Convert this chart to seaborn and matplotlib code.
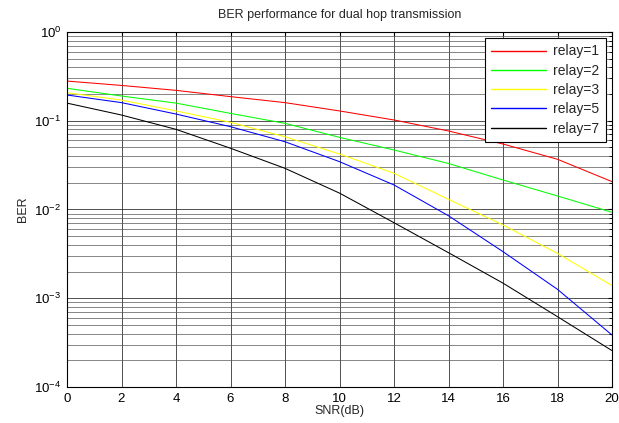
import numpy as np
import pandas as pd
import seaborn as sns
import matplotlib
matplotlib.use("Agg")
import matplotlib.pyplot as plt
import matplotlib.ticker as plticker

snr_db = [0, 2, 4, 6, 8, 10, 12, 14, 16, 18, 20]
ber_relay1 = [0.28, 0.25, 0.22, 0.187, 0.16, 0.129, 0.102, 0.0767, 0.0547, 0.0368, 0.0206]
ber_relay2 = [0.232, 0.19, 0.158, 0.121, 0.0935, 0.065, 0.0468, 0.033, 0.0215, 0.0142, 0.0093]
ber_relay3 = [0.207, 0.171, 0.129, 0.096, 0.066, 0.0422, 0.0256, 0.013, 0.0067, 0.0032, 0.00139]
ber_relay5 = [0.195, 0.16, 0.119, 0.0857, 0.058, 0.0346, 0.0189, 0.0085, 0.00335, 0.00126, 0.000385]
ber_relay7 = [0.158, 0.116, 0.080, 0.049, 0.0291, 0.0153, 0.0071, 0.00326, 0.00148, 0.00062, 0.000257]
labels = ["relay=1", "relay=2", "relay=3", "relay=5", "relay=7"]
colors = ["#ff0000", "#00ff00", "#ffff00", "#0000ff", "#000000"]

frames = []
for lab, vals in zip(labels, [ber_relay1, ber_relay2, ber_relay3, ber_relay5, ber_relay7]):
    frames.append(pd.DataFrame({"SNR": snr_db, "BER": vals, "relay": lab}))
df = pd.concat(frames, ignore_index=True)

sns.set_style("white")
plt.rcParams["font.family"] = ["Liberation Sans", "DejaVu Sans"]

fig = plt.figure(figsize=(6.19, 4.23), dpi=100)
ax = fig.add_axes([67 / 619, 1 - 387 / 423, 545 / 619, 355 / 423])

sns.lineplot(data=df, x="SNR", y="BER", hue="relay", palette=colors,
             linewidth=0.75, ax=ax, legend=True)
ax.set_yscale("log")
ax.set_xlim(0, 20)
ax.set_ylim(1e-4, 1)
ax.xaxis.set_major_locator(plticker.MultipleLocator(2))
ax.yaxis.set_major_locator(plticker.LogLocator(base=10, numticks=10))
ax.yaxis.set_minor_locator(plticker.LogLocator(base=10, subs=np.arange(2, 10), numticks=20))
ax.yaxis.set_minor_formatter(plticker.NullFormatter())

ax.grid(True, which="major", color="#333333", linewidth=0.6)
ax.grid(True, which="minor", axis="y", color="#555555", linewidth=0.5)
ax.set_axisbelow(True)

ax.tick_params(which="both", direction="in", top=True, right=True,
               labelsize=9.5, colors="black", length=3, pad=4)
ax.tick_params(which="minor", length=2)
for sp in ax.spines.values():
    sp.set_color("black")
    sp.set_linewidth(0.8)

ax.set_title("BER performance for dual hop transmission", fontsize=9, pad=10)
ax.set_xlabel("SNR(dB)", fontsize=9, labelpad=0)
ax.set_ylabel("BER", fontsize=9, labelpad=4)

leg = ax.legend(loc="upper right", fontsize=10, handlelength=4.0,
                frameon=True, fancybox=False, framealpha=1,
                borderaxespad=0.45, labelspacing=0.38, handletextpad=0.5,
                borderpad=0.45)
leg.get_frame().set_edgecolor("black")
leg.get_frame().set_linewidth(0.8)
for h in leg.get_lines():
    h.set_linewidth(1.0)

fig.savefig("out.png", dpi=100)
